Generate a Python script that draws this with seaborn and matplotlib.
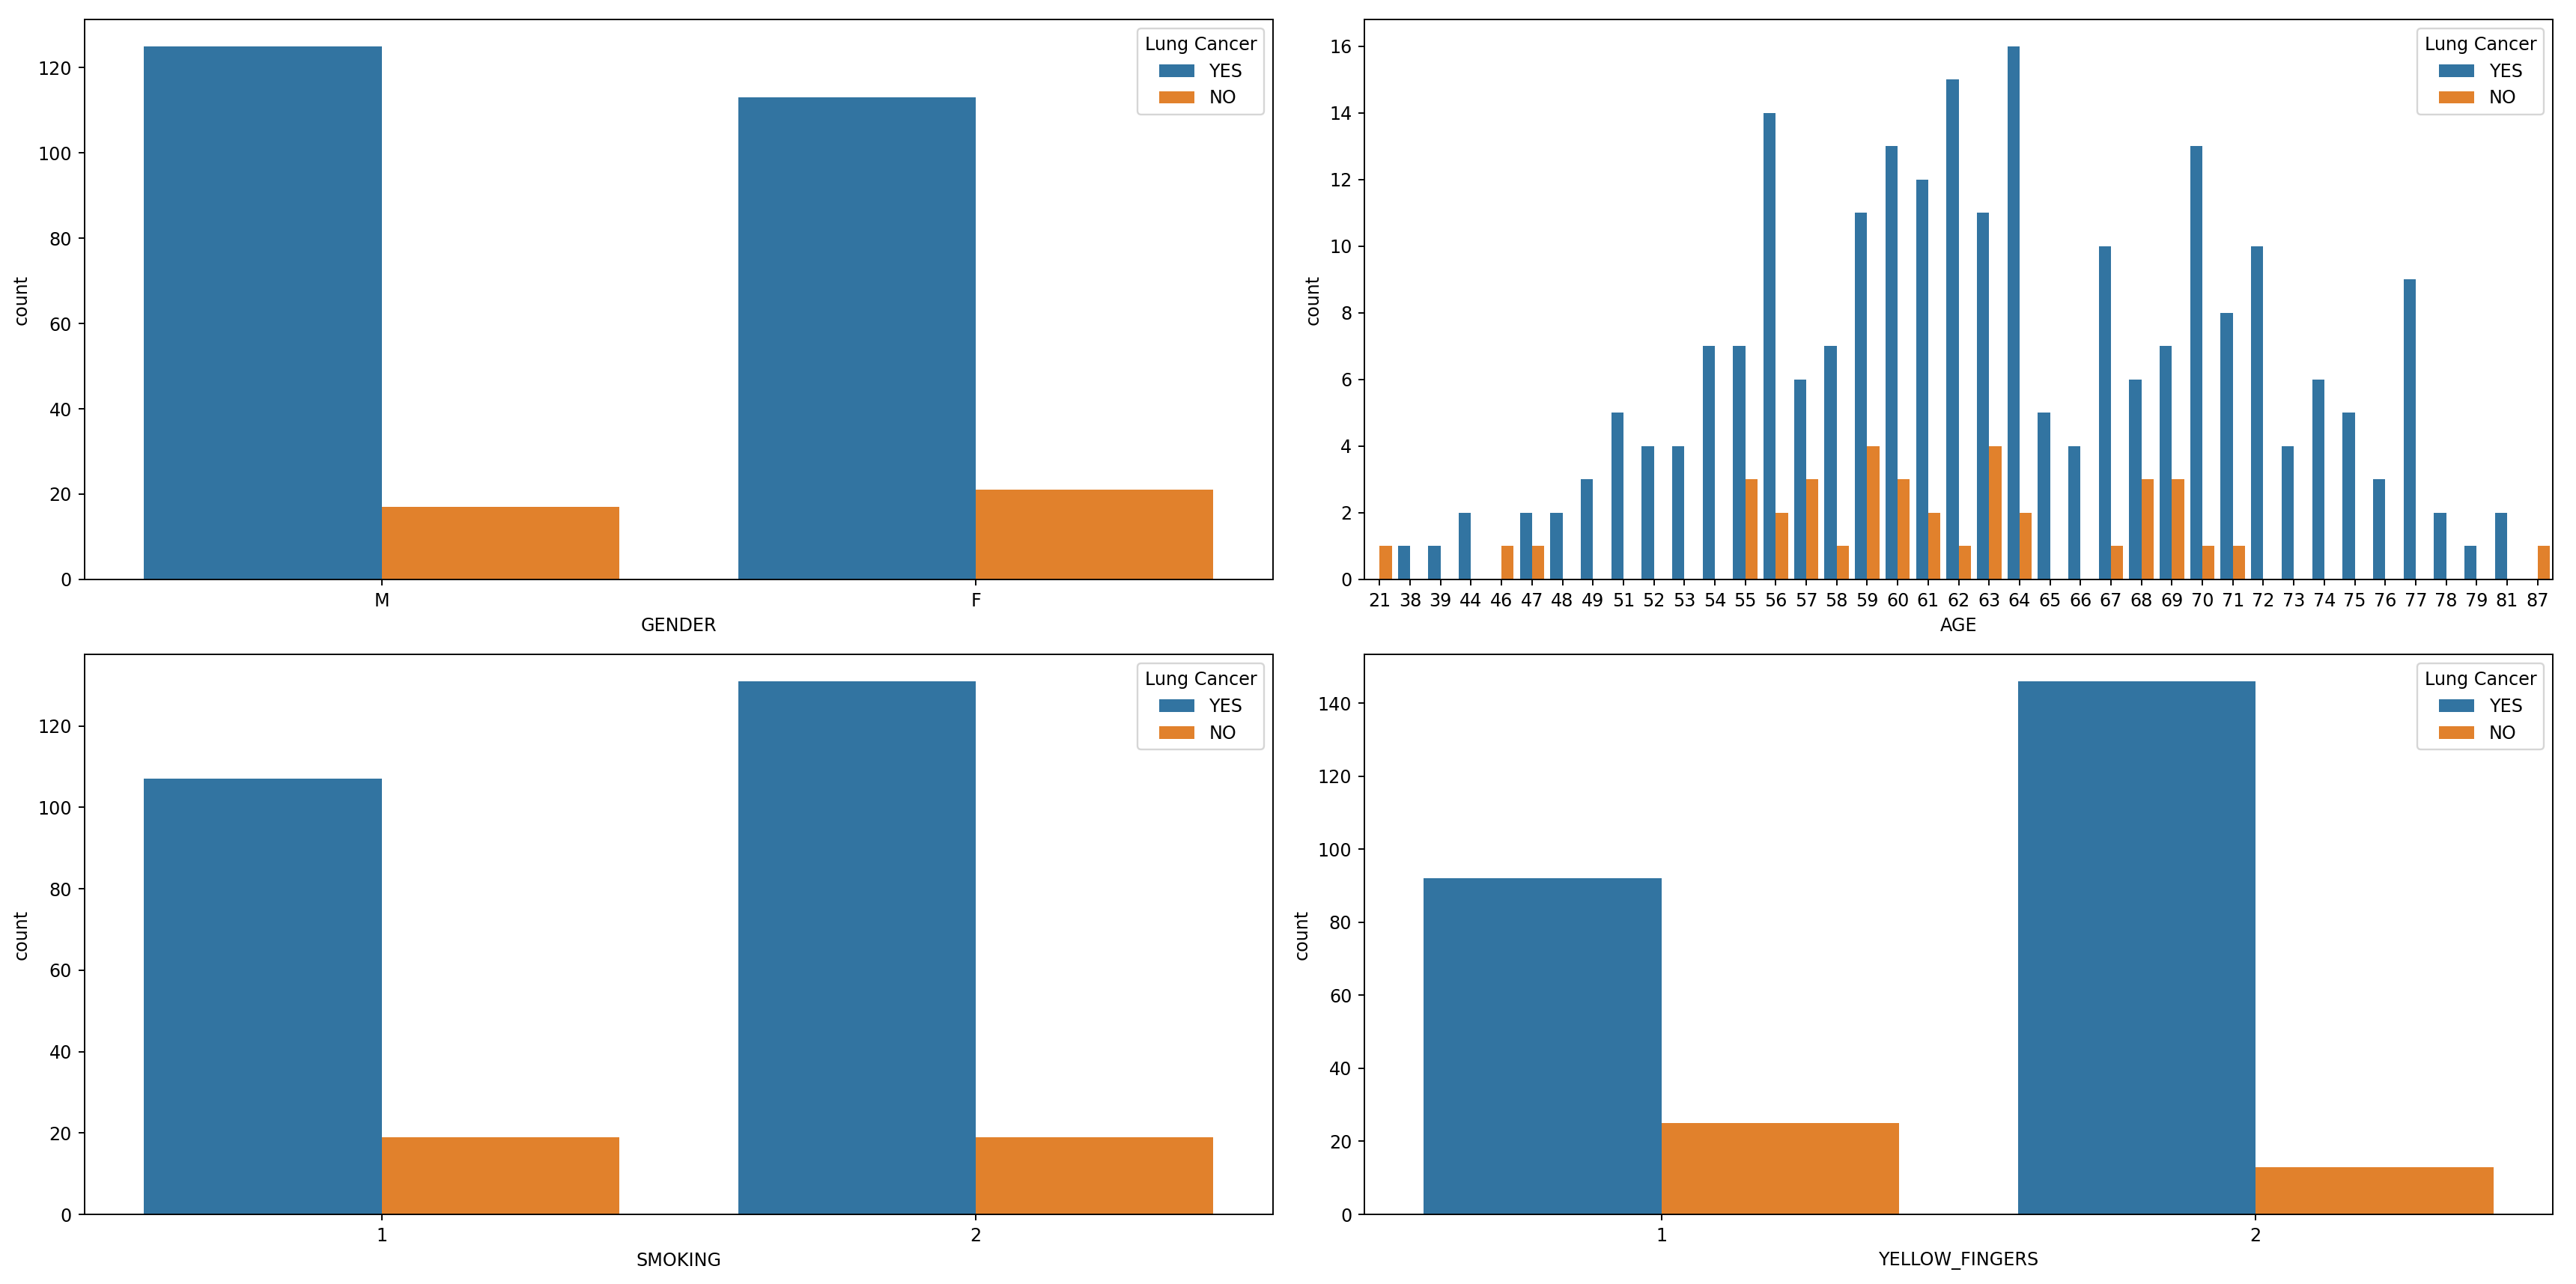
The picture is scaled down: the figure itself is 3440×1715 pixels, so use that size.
import matplotlib
matplotlib.use("Agg")
from matplotlib import pyplot as plt
import seaborn as sns
import pandas as pd

hue_levels = ["YES", "NO"]

gender_cats = ["M", "F"]
gender_yes = [125, 113]
gender_no = [17, 21]

age_cats = ["21", "38", "39", "44", "46", "47", "48", "49", "51", "52", "53", "54", "55",
            "56", "57", "58", "59", "60", "61", "62", "63", "64", "65", "66", "67", "68",
            "69", "70", "71", "72", "73", "74", "75", "76", "77", "78", "79", "81", "87"]
age_yes = [0, 1, 1, 2, 0, 2, 2, 3, 5, 4, 4, 7, 7,
           14, 6, 7, 11, 13, 12, 15, 11, 16, 5, 4, 10, 6,
           7, 13, 8, 10, 4, 6, 5, 3, 9, 2, 1, 2, 0]
age_no = [1, 0, 0, 0, 1, 1, 0, 0, 0, 0, 0, 0, 3,
          2, 3, 1, 4, 3, 2, 1, 4, 2, 0, 0, 1, 3,
          3, 1, 1, 0, 0, 0, 0, 0, 0, 0, 0, 0, 1]

smoking_cats = ["1", "2"]
smoking_yes = [107, 131]
smoking_no = [19, 19]

yellow_cats = ["1", "2"]
yellow_yes = [92, 146]
yellow_no = [25, 13]


def make_table(cats, yes, no):
    rows = []
    for c, y, n in zip(cats, yes, no):
        rows.append((c, "YES", y))
        rows.append((c, "NO", n))
    return pd.DataFrame(rows, columns=["x", "Lung Cancer", "count"])


panels = [
    ("GENDER", gender_cats, gender_yes, gender_no),
    ("AGE", age_cats, age_yes, age_no),
    ("SMOKING", smoking_cats, smoking_yes, smoking_no),
    ("YELLOW_FINGERS", yellow_cats, yellow_yes, yellow_no),
]

fig, axes = plt.subplots(2, 2, figsize=(20, 1715 / 172), dpi=172)

for ax, (name, cats, yes, no) in zip(axes.flat, panels):
    df = make_table(cats, yes, no)
    sns.barplot(data=df, x="x", y="count", hue="Lung Cancer", order=cats,
                hue_order=hue_levels, ax=ax)
    ax.set_xlabel(name)
    ax.set_ylabel("count")
    ax.legend(title="Lung Cancer", loc="upper right")

plt.subplots_adjust(left=0.0328, right=0.991, top=0.9848, bottom=0.0542,
                    wspace=0.077, hspace=0.134)
plt.savefig("out.png")
